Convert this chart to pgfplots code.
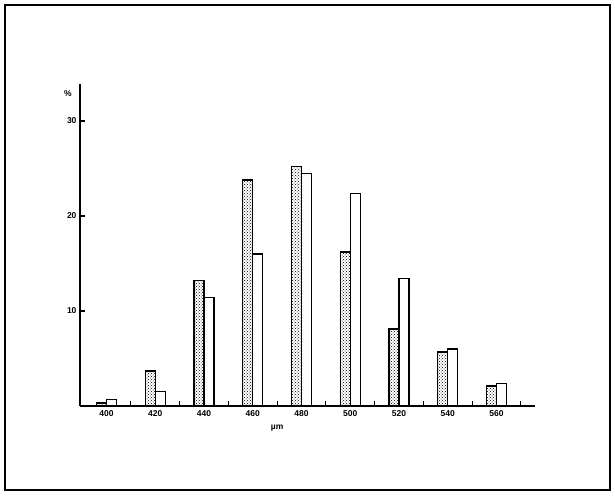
\documentclass[border=0pt]{standalone}
\usepackage{fontspec}
\setmainfont{Liberation Sans}
\usepackage{pgfplots}
\pgfplotsset{compat=1.18}
\usetikzlibrary{patterns}
\begin{document}
\begin{tikzpicture}[x=1pt,y=1pt]
\path (0,0) rectangle (615,495);
\draw[line width=1.5pt] (5,5) rectangle (610,490);
\begin{axis}[
  at={(80pt,89pt)}, anchor=south west,
  scale only axis, width=455pt, height=322pt,
  xmin=-0.544, xmax=8.79, ymin=0, ymax=33.9,
  axis lines=left, axis line style={-, line width=1.6pt},
  ybar=0pt, bar width=10pt,
  xtick={0.5,1.5,2.5,3.5,4.5,5.5,6.5,7.5,8.5},
  xticklabels={},
  extra x ticks={0,1,2,3,4,5,6,7,8},
  extra x tick labels={400,420,440,460,480,500,520,540,560},
  extra x tick style={major tick length=0pt},
  major tick length=4.5pt,
  tick style={black, line width=1.2pt},
  tick align=inside,
  ytick={10,20,30},
  /pgf/number format/assume math mode=true,
  ticklabel style={font=\bfseries\fontsize{8.5}{9}\selectfont},
  xticklabel style={yshift=-1pt},
  xlabel={µm},
  xlabel style={font=\bfseries\fontsize{8.5}{9}\selectfont, at={(axis cs:3.5,-2.3)}, anchor=center},
  ylabel={\%},
  ylabel style={font=\bfseries\fontsize{8.5}{9}\selectfont, rotate=-90, at={(axis cs:-0.79,32.9)}, anchor=center},
  clip=false,
]
\addplot[draw=black, line width=1.4pt, pattern=crosshatch dots] coordinates {
(0,0.3) (1,3.7) (2,13.2) (3,23.8) (4,25.2) (5,16.2) (6,8.1) (7,5.7) (8,2.1)};
\addplot[draw=black, line width=1.4pt, fill=white] coordinates {
(0,0.7) (1,1.5) (2,11.4) (3,16.0) (4,24.5) (5,22.4) (6,13.4) (7,6.0) (8,2.4)};
\end{axis}
\end{tikzpicture}
\end{document}
